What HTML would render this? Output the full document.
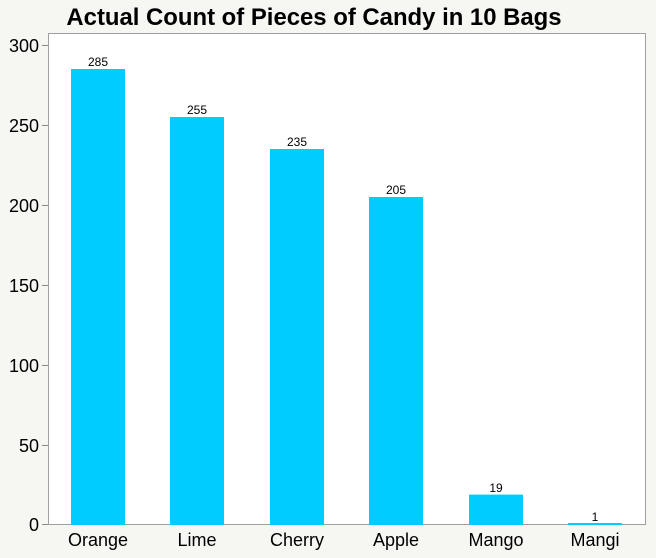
<!DOCTYPE html>
<html><head><style>
body{margin:0;background:#f6f6f2;}
svg{display:block;font-family:"Liberation Sans",Arial,sans-serif;}
</style></head><body>
<svg width="656" height="558" xmlns="http://www.w3.org/2000/svg">
<rect width="656" height="558" fill="#f6f6f2"/>
<text x="314" y="25" font-size="23.9" font-weight="bold" text-anchor="middle" fill="#000">Actual Count of Pieces of Candy in 10 Bags</text>
<rect x="48.5" y="33.5" width="597" height="491" fill="#fff" stroke="#a0a0a0" stroke-width="1"/>
<g stroke="#888" stroke-width="1">
<line x1="42" y1="45.5" x2="48" y2="45.5"/>
<line x1="42" y1="125.5" x2="48" y2="125.5"/>
<line x1="42" y1="205.5" x2="48" y2="205.5"/>
<line x1="42" y1="285.5" x2="48" y2="285.5"/>
<line x1="42" y1="365.5" x2="48" y2="365.5"/>
<line x1="42" y1="445.5" x2="48" y2="445.5"/>
<line x1="42" y1="524.5" x2="48" y2="524.5"/>
</g>
<g font-size="18" text-anchor="end" fill="#000">
<text x="39" y="52">300</text>
<text x="39" y="132">250</text>
<text x="39" y="212">200</text>
<text x="39" y="292">150</text>
<text x="39" y="372">100</text>
<text x="39" y="452">50</text>
<text x="39" y="531">0</text>
</g>
<g fill="#00ccff">
<rect x="71" y="69" width="54" height="456"/>
<rect x="170" y="117" width="54" height="408"/>
<rect x="270" y="149" width="54" height="376"/>
<rect x="369" y="197" width="54" height="328"/>
<rect x="469" y="494.6" width="54" height="30.4"/>
<rect x="568" y="523" width="54" height="2"/>
</g>
<g font-size="12" text-anchor="middle" fill="#000">
<text x="98" y="66">285</text>
<text x="197" y="114">255</text>
<text x="297" y="146">235</text>
<text x="396" y="194">205</text>
<text x="496" y="492">19</text>
<text x="595" y="521">1</text>
</g>
<g font-size="18" text-anchor="middle" fill="#000">
<text x="98" y="546">Orange</text>
<text x="197" y="546">Lime</text>
<text x="297" y="546">Cherry</text>
<text x="396" y="546">Apple</text>
<text x="496" y="546">Mango</text>
<text x="595" y="546">Mangi</text>
</g>
</svg>
</body></html>
